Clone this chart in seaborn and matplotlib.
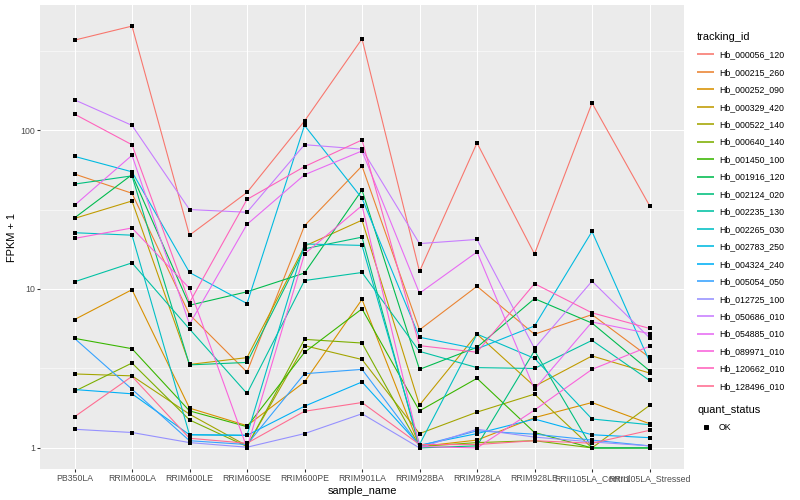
import numpy as np
import pandas as pd
import matplotlib
matplotlib.use("Agg")
import matplotlib.pyplot as plt
import seaborn as sns
from matplotlib.lines import Line2D
from matplotlib.ticker import FixedLocator, NullFormatter

samples = ["PB350LA", "RRIM600LA", "RRIM600LE", "RRIM600SE", "RRIM600PE", "RRIM901LA",
           "RRIM928BA", "RRIM928LA", "RRIM928LE", "RRII105LA_Control", "RRII105LA_Stressed"]

tracking_ids = ["Hb_000056_120", "Hb_000215_260", "Hb_000252_090", "Hb_000329_420",
                "Hb_000522_140", "Hb_000640_140", "Hb_001450_100", "Hb_001916_120",
                "Hb_002124_020", "Hb_002235_130", "Hb_002265_030", "Hb_002783_250",
                "Hb_004324_240", "Hb_005054_050", "Hb_012725_100", "Hb_050686_010",
                "Hb_054885_010", "Hb_089971_010", "Hb_120662_010", "Hb_128496_010"]

colors = ["#F8766D", "#EA8331", "#D89000", "#C09B00", "#A3A500", "#7CAE00", "#39B600",
          "#00BB4E", "#00BF7D", "#00C1A3", "#00BFC4", "#00BAE0", "#00B0F6", "#35A2FF",
          "#9590FF", "#C77CFF", "#E76BF3", "#FA62DB", "#FF62BC", "#FF6C91"]

# FPKM + 1 values per gene, in sample order
hb_000056_120 = [368, 451, 21.8, 40.5, 114, 375, 12.9, 83, 16.6, 148, 33.5]
hb_000215_260 = [52.9, 40, 6.9, 3.0, 25.0, 59.4, 5.53, 10.4, 5.19, 6.9, 3.71]
hb_000252_090 = [6.42, 9.9, 1.78, 1.38, 2.6, 8.6, 1.02, 1.12, 1.55, 1.93, 1.42]
hb_000329_420 = [27.8, 35.8, 3.35, 3.7, 18.6, 27.1, 1.86, 5.2, 2.44, 3.79, 2.96]
hb_000522_140 = [2.92, 2.84, 1.63, 1.03, 4.4, 3.6, 1.23, 1.68, 2.18, 1.0, 1.85]
hb_000640_140 = [2.27, 3.42, 1.50, 1.02, 4.82, 4.57, 1.02, 1.08, 1.11, 1.0, 1.0]
hb_001450_100 = [4.89, 4.21, 1.71, 1.36, 3.99, 7.5, 1.71, 2.74, 1.25, 1.0, 1.0]
hb_001916_120 = [28.0, 52.4, 7.9, 9.6, 12.6, 41.9, 3.12, 4.3, 8.7, 6.1, 3.06]
hb_002124_020 = [45.7, 51.5, 3.33, 3.45, 17.9, 21.2, 1.0, 1.03, 4.09, 1.0, 1.0]
hb_002235_130 = [11.1, 14.6, 5.6, 2.2, 11.3, 12.7, 4.05, 3.2, 3.16, 4.75, 2.66]
hb_002265_030 = [22.6, 21.8, 1.21, 1.2, 19.2, 18.8, 1.05, 5.2, 3.66, 1.52, 1.40]
hb_002783_250 = [68.3, 54.6, 12.7, 8.1, 107, 37.2, 4.97, 4.2, 5.85, 23, 3.5]
hb_004324_240 = [2.33, 2.19, 1.21, 1.2, 1.83, 2.6, 1.04, 1.23, 1.52, 1.21, 1.16]
hb_005054_050 = [4.89, 2.34, 1.11, 1.05, 2.93, 3.12, 1.03, 1.28, 1.22, 1.12, 1.03]
hb_012725_100 = [1.31, 1.25, 1.08, 1.01, 1.23, 1.64, 1.0, 1.31, 1.17, 1.09, 1.03]
hb_050686_010 = [155, 107, 31.6, 30.4, 80.9, 75.8, 19.3, 20.5, 4.23, 11.2, 4.93]
hb_054885_010 = [33.6, 69.4, 6.0, 25.5, 52.3, 73.9, 9.4, 17.1, 2.34, 6.2, 5.24]
hb_089971_010 = [20.8, 24.2, 10.1, 1.0, 16.6, 33.5, 1.02, 1.0, 1.73, 3.12, 4.36]
hb_120662_010 = [126, 80.8, 8.2, 36.6, 58.9, 86.6, 4.4, 4.0, 10.8, 7.08, 5.65]
hb_128496_010 = [1.57, 2.82, 1.15, 1.07, 1.70, 1.93, 1.05, 1.05, 1.11, 1.07, 1.29]

series = [hb_000056_120, hb_000215_260, hb_000252_090, hb_000329_420, hb_000522_140,
          hb_000640_140, hb_001450_100, hb_001916_120, hb_002124_020, hb_002235_130,
          hb_002265_030, hb_002783_250, hb_004324_240, hb_005054_050, hb_012725_100,
          hb_050686_010, hb_054885_010, hb_089971_010, hb_120662_010, hb_128496_010]

rows = []
for tid, vals in zip(tracking_ids, series):
    for s, v in zip(samples, vals):
        rows.append({"tracking_id": tid, "sample_name": s, "fpkm": v, "quant_status": "OK"})
df = pd.DataFrame(rows)
df["xpos"] = df["sample_name"].map({s: i for i, s in enumerate(samples)})

plt.rcParams["font.family"] = ["Liberation Sans", "DejaVu Sans"]

DPI = 72
fig = plt.figure(figsize=(800 / DPI, 500 / DPI), dpi=DPI, facecolor="white")
ax = fig.add_axes([40 / 800, 31 / 500, 644 / 800, 464 / 500])
ax.set_facecolor("#EBEBEB")

sns.lineplot(data=df, x="xpos", y="fpkm", hue="tracking_id", hue_order=tracking_ids,
             palette=colors, estimator=None, sort=False, linewidth=1.1, legend=False, ax=ax)
sns.scatterplot(data=df, x="xpos", y="fpkm", color="black", marker="s", s=14,
                linewidth=0, legend=False, ax=ax, zorder=5)

ax.set_yscale("log")
lo = np.log10(df["fpkm"].min())
hi = np.log10(df["fpkm"].max())
pad = 0.05 * (hi - lo)
ax.set_ylim(10 ** (lo - pad), 10 ** (hi + pad))
ax.set_xlim(-0.6, len(samples) - 1 + 0.6)

ax.yaxis.set_major_locator(FixedLocator([1, 10, 100]))
ax.yaxis.set_minor_locator(FixedLocator([10 ** 0.5, 10 ** 1.5, 10 ** 2.5]))
ax.yaxis.set_minor_formatter(NullFormatter())
ax.set_yticklabels(["1", "10", "100"])
ax.set_xticks(range(len(samples)))
ax.set_xticklabels(samples)

ax.grid(which="major", color="white", linewidth=1.07)
ax.grid(which="minor", axis="y", color="white", linewidth=0.53)
ax.set_axisbelow(True)
for sp in ax.spines.values():
    sp.set_visible(False)
ax.tick_params(axis="both", which="major", length=2.75, width=1.07, color="#333333",
               labelsize=8.8, labelcolor="#4D4D4D", pad=2.2)
ax.tick_params(axis="y", which="minor", length=0)

ax.set_xlabel("sample_name", fontsize=11, color="black", labelpad=3)
ax.set_ylabel("FPKM + 1", fontsize=11, color="black", labelpad=3)

handles = [Line2D([0, 1], [0, 0], color=c, linewidth=1.6, solid_capstyle="butt") for c in colors]
leg1 = fig.legend(handles=handles, labels=tracking_ids, title="tracking_id", loc="upper left",
                  bbox_to_anchor=(697 / 800, 1 - 32 / 500), frameon=False,
                  fontsize=8.8, title_fontsize=11, handlelength=1.95, handletextpad=0.55,
                  labelspacing=0.96, borderpad=0, borderaxespad=0, alignment="left")
pt = [Line2D([], [], marker="s", color="black", linestyle="", markersize=3.8)]
leg2 = fig.legend(handles=pt, labels=["OK"], title="quant_status", loc="upper left",
                  bbox_to_anchor=(697 / 800, 1 - 405 / 500), frameon=False,
                  fontsize=8.8, title_fontsize=11, handlelength=1.95, handletextpad=0.55,
                  labelspacing=0.96, borderpad=0, borderaxespad=0, alignment="left")

fig.savefig("out.png", dpi=DPI, facecolor="white")
